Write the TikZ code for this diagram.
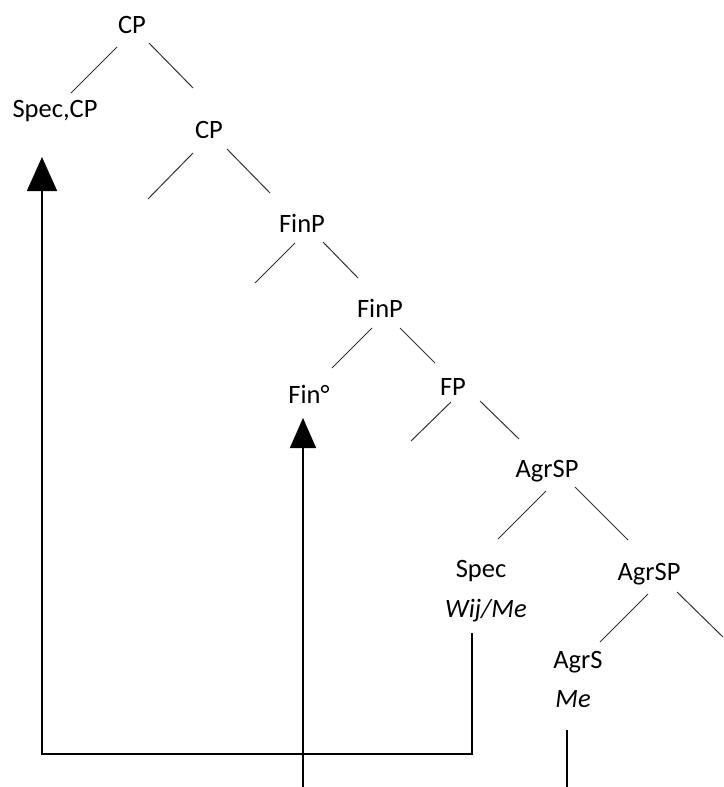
\documentclass[tikz,border=0pt]{standalone}
\usepackage{fontspec}
\setmainfont{Carlito}
\usetikzlibrary{arrows.meta}
\begin{document}
\begin{tikzpicture}[x=1pt,y=-1pt,
  lbl/.style={anchor=base,inner sep=0pt,text=black,font=\fontsize{26.5}{30}\selectfont},
  ilbl/.style={lbl,font=\fontsize{26.5}{30}\selectfont\itshape},
  branch/.style={draw=black!80,line width=1pt},
  link/.style={draw=black,line width=1.7pt},
  bigtip/.style={-{Triangle[width=30pt,length=34pt]}},
  smalltip/.style={-{Triangle[width=26pt,length=30pt]}}]
\useasboundingbox (0,0) rectangle (723,787);

% tree labels
\node[lbl] (cpA)    at (132,33)  {CP};
\node[lbl] (speccp) at (55,117)  {Spec,CP};
\node[lbl] (cpB)    at (209,138) {CP};
\node[lbl] (finpA)  at (302,232) {FinP};
\node[lbl] (finpB)  at (380,317) {FinP};
\node[lbl] (fin)    at (309,403) {Fin°};
\node[lbl] (fp)     at (453,395) {FP};
\node[lbl] (agrspA) at (547,477) {AgrSP};
\node[lbl] (spec)   at (481,577) {Spec};
\node[ilbl] (wijme) at (486,617) {Wij/Me};
\node[lbl] (agrspB) at (649,580) {AgrSP};
\node[lbl] (agrs)   at (578,668) {AgrS};
\node[ilbl] (me)    at (573,707) {Me};

% branches
\draw[branch] ([shift={(-15,14)}]cpA.base) -- ++(-46,46);
\draw[branch] ([shift={(17,10)}]cpA.base) -- ++(44,45);
\draw[branch] ([shift={(-16,15)}]cpB.base) -- ++(-45,46);
\draw[branch] ([shift={(18,11)}]cpB.base) -- ++(43,44);
\draw[branch] ([shift={(-7,11)}]finpA.base) -- ++(-40,40);
\draw[branch] ([shift={(21,10)}]finpA.base) -- ++(35,36);
\draw[branch] ([shift={(-8,11)}]finpB.base) -- ++(-40,40);
\draw[branch] ([shift={(20,11)}]finpB.base) -- ++(35,35);
\draw[branch] ([shift={(-2,7)}]fp.base) -- ++(-40,39);
\draw[branch] ([shift={(27,6)}]fp.base) -- ++(39,38);
\draw[branch] ([shift={(-1,14)}]agrspA.base) -- ++(-48,48);
\draw[branch] ([shift={(28,10)}]agrspA.base) -- ++(53,53);
\draw[branch] ([shift={(-1,14)}]agrspB.base) -- ++(-48,48);
\draw[branch] ([shift={(28,12)}]agrspB.base) -- ++(46,45);

% movement lines
\coordinate (floor)  at (0,754);
\coordinate (bottom) at (0,787);
\coordinate (tipA)   at ([shift={(-13,40)}]speccp.base);
\coordinate (tipB)   at ([shift={(-6,15)}]fin.base);
\coordinate (fromSpec) at ([shift={(-14,16)}]wijme.base);
\coordinate (fromMe)   at ([shift={(-6,23)}]me.base);

\draw[link,bigtip] (fromSpec) -- (fromSpec |- floor) -- (tipA |- floor) -- (tipA);
\draw[link,smalltip] (tipB |- bottom) -- (tipB);
\draw[link] (fromMe) -- (fromMe |- bottom);
\end{tikzpicture}
\end{document}
